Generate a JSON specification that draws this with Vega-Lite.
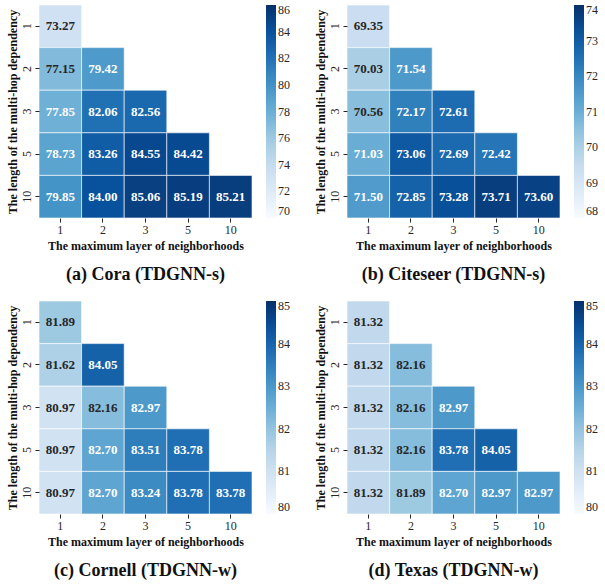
{
  "$schema": "https://vega.github.io/schema/vega-lite/v6.json",
  "padding": {"left": 6, "top": 4, "right": 0, "bottom": 0},
  "background": "white",
  "data": {"values": [
    {"dataset": "Cora", "length": "1", "layer": "1", "value": 73.27},
    {"dataset": "Cora", "length": "2", "layer": "1", "value": 77.15},
    {"dataset": "Cora", "length": "2", "layer": "2", "value": 79.42},
    {"dataset": "Cora", "length": "3", "layer": "1", "value": 77.85},
    {"dataset": "Cora", "length": "3", "layer": "2", "value": 82.06},
    {"dataset": "Cora", "length": "3", "layer": "3", "value": 82.56},
    {"dataset": "Cora", "length": "5", "layer": "1", "value": 78.73},
    {"dataset": "Cora", "length": "5", "layer": "2", "value": 83.26},
    {"dataset": "Cora", "length": "5", "layer": "3", "value": 84.55},
    {"dataset": "Cora", "length": "5", "layer": "5", "value": 84.42},
    {"dataset": "Cora", "length": "10", "layer": "1", "value": 79.85},
    {"dataset": "Cora", "length": "10", "layer": "2", "value": 84.00},
    {"dataset": "Cora", "length": "10", "layer": "3", "value": 85.06},
    {"dataset": "Cora", "length": "10", "layer": "5", "value": 85.19},
    {"dataset": "Cora", "length": "10", "layer": "10", "value": 85.21},

    {"dataset": "Citeseer", "length": "1", "layer": "1", "value": 69.35},
    {"dataset": "Citeseer", "length": "2", "layer": "1", "value": 70.03},
    {"dataset": "Citeseer", "length": "2", "layer": "2", "value": 71.54},
    {"dataset": "Citeseer", "length": "3", "layer": "1", "value": 70.56},
    {"dataset": "Citeseer", "length": "3", "layer": "2", "value": 72.17},
    {"dataset": "Citeseer", "length": "3", "layer": "3", "value": 72.61},
    {"dataset": "Citeseer", "length": "5", "layer": "1", "value": 71.03},
    {"dataset": "Citeseer", "length": "5", "layer": "2", "value": 73.06},
    {"dataset": "Citeseer", "length": "5", "layer": "3", "value": 72.69},
    {"dataset": "Citeseer", "length": "5", "layer": "5", "value": 72.42},
    {"dataset": "Citeseer", "length": "10", "layer": "1", "value": 71.50},
    {"dataset": "Citeseer", "length": "10", "layer": "2", "value": 72.85},
    {"dataset": "Citeseer", "length": "10", "layer": "3", "value": 73.28},
    {"dataset": "Citeseer", "length": "10", "layer": "5", "value": 73.71},
    {"dataset": "Citeseer", "length": "10", "layer": "10", "value": 73.60},

    {"dataset": "Cornell", "length": "1", "layer": "1", "value": 81.89},
    {"dataset": "Cornell", "length": "2", "layer": "1", "value": 81.62},
    {"dataset": "Cornell", "length": "2", "layer": "2", "value": 84.05},
    {"dataset": "Cornell", "length": "3", "layer": "1", "value": 80.97},
    {"dataset": "Cornell", "length": "3", "layer": "2", "value": 82.16},
    {"dataset": "Cornell", "length": "3", "layer": "3", "value": 82.97},
    {"dataset": "Cornell", "length": "5", "layer": "1", "value": 80.97},
    {"dataset": "Cornell", "length": "5", "layer": "2", "value": 82.70},
    {"dataset": "Cornell", "length": "5", "layer": "3", "value": 83.51},
    {"dataset": "Cornell", "length": "5", "layer": "5", "value": 83.78},
    {"dataset": "Cornell", "length": "10", "layer": "1", "value": 80.97},
    {"dataset": "Cornell", "length": "10", "layer": "2", "value": 82.70},
    {"dataset": "Cornell", "length": "10", "layer": "3", "value": 83.24},
    {"dataset": "Cornell", "length": "10", "layer": "5", "value": 83.78},
    {"dataset": "Cornell", "length": "10", "layer": "10", "value": 83.78},

    {"dataset": "Texas", "length": "1", "layer": "1", "value": 81.32},
    {"dataset": "Texas", "length": "2", "layer": "1", "value": 81.32},
    {"dataset": "Texas", "length": "2", "layer": "2", "value": 82.16},
    {"dataset": "Texas", "length": "3", "layer": "1", "value": 81.32},
    {"dataset": "Texas", "length": "3", "layer": "2", "value": 82.16},
    {"dataset": "Texas", "length": "3", "layer": "3", "value": 82.97},
    {"dataset": "Texas", "length": "5", "layer": "1", "value": 81.32},
    {"dataset": "Texas", "length": "5", "layer": "2", "value": 82.16},
    {"dataset": "Texas", "length": "5", "layer": "3", "value": 83.78},
    {"dataset": "Texas", "length": "5", "layer": "5", "value": 84.05},
    {"dataset": "Texas", "length": "10", "layer": "1", "value": 81.32},
    {"dataset": "Texas", "length": "10", "layer": "2", "value": 81.89},
    {"dataset": "Texas", "length": "10", "layer": "3", "value": 82.70},
    {"dataset": "Texas", "length": "10", "layer": "5", "value": 82.97},
    {"dataset": "Texas", "length": "10", "layer": "10", "value": 82.97}
  ]},
  "columns": 2,
  "spacing": {"column": 24, "row": 16},
  "resolve": {"scale": {"color": "independent"}, "legend": {"color": "independent"}},
  "concat": [
    {
      "transform": [{"filter": "datum.dataset === 'Cora'"}],
      "width": 213, "height": 213,
      "title": {"text": "(a) Cora (TDGNN-s)"},
      "encoding": {
        "x": {"field": "layer", "type": "ordinal", "sort": ["1","2","3","5","10"], "scale": {"domain": ["1","2","3","5","10"], "paddingInner": 0, "paddingOuter": 0}, "title": "The maximum layer of neighborhoods"},
        "y": {"field": "length", "type": "ordinal", "sort": ["1","2","3","5","10"], "scale": {"domain": ["1","2","3","5","10"], "paddingInner": 0, "paddingOuter": 0}, "title": "The length of the multi-hop dependency"}
      },
      "layer": [
        {"mark": {"type": "rect", "stroke": "white", "strokeWidth": 0.6},
         "encoding": {"color": {"field": "value", "type": "quantitative",
           "scale": {"domain": [70,72,74,76,78,80,82,84,86], "interpolate": "rgb", "range": ["#f7fbff","#deebf7","#c6dbef","#9ecae1","#6baed6","#4292c6","#2171b5","#08519c","#08306b"]},
           "legend": {"values": [70,72,74,76,78,80,82,84,86]}}}},
        {"mark": {"type": "text", "fontWeight": "bold", "fontSize": 13, "font": "Liberation Serif"},
         "encoding": {"text": {"field": "value", "type": "quantitative", "format": ".2f"},
           "color": {"condition": {"test": "datum.value < 77.5", "value": "#262626"}, "value": "white"}}}
      ]
    },
    {
      "transform": [{"filter": "datum.dataset === 'Citeseer'"}],
      "width": 213, "height": 213,
      "title": {"text": "(b) Citeseer (TDGNN-s)"},
      "encoding": {
        "x": {"field": "layer", "type": "ordinal", "sort": ["1","2","3","5","10"], "scale": {"domain": ["1","2","3","5","10"], "paddingInner": 0, "paddingOuter": 0}, "title": "The maximum layer of neighborhoods"},
        "y": {"field": "length", "type": "ordinal", "sort": ["1","2","3","5","10"], "scale": {"domain": ["1","2","3","5","10"], "paddingInner": 0, "paddingOuter": 0}, "title": "The length of the multi-hop dependency"}
      },
      "layer": [
        {"mark": {"type": "rect", "stroke": "white", "strokeWidth": 0.6},
         "encoding": {"color": {"field": "value", "type": "quantitative",
           "scale": {"domain": [68,68.75,69.5,70.25,71,71.75,72.5,73.25,74], "interpolate": "rgb", "range": ["#f7fbff","#deebf7","#c6dbef","#9ecae1","#6baed6","#4292c6","#2171b5","#08519c","#08306b"]},
           "legend": {"values": [68,69,70,71,72,73,74]}}}},
        {"mark": {"type": "text", "fontWeight": "bold", "fontSize": 13, "font": "Liberation Serif"},
         "encoding": {"text": {"field": "value", "type": "quantitative", "format": ".2f"},
           "color": {"condition": {"test": "datum.value < 70.8", "value": "#262626"}, "value": "white"}}}
      ]
    },
    {
      "transform": [{"filter": "datum.dataset === 'Cornell'"}],
      "width": 213, "height": 213,
      "title": {"text": "(c) Cornell (TDGNN-w)"},
      "encoding": {
        "x": {"field": "layer", "type": "ordinal", "sort": ["1","2","3","5","10"], "scale": {"domain": ["1","2","3","5","10"], "paddingInner": 0, "paddingOuter": 0}, "title": "The maximum layer of neighborhoods"},
        "y": {"field": "length", "type": "ordinal", "sort": ["1","2","3","5","10"], "scale": {"domain": ["1","2","3","5","10"], "paddingInner": 0, "paddingOuter": 0}, "title": "The length of the multi-hop dependency"}
      },
      "layer": [
        {"mark": {"type": "rect", "stroke": "white", "strokeWidth": 0.6},
         "encoding": {"color": {"field": "value", "type": "quantitative",
           "scale": {"domain": [80,80.625,81.25,81.875,82.5,83.125,83.75,84.375,85], "interpolate": "rgb", "range": ["#f7fbff","#deebf7","#c6dbef","#9ecae1","#6baed6","#4292c6","#2171b5","#08519c","#08306b"]},
           "legend": {"values": [80,81,82,83,84,85]}}}},
        {"mark": {"type": "text", "fontWeight": "bold", "fontSize": 13, "font": "Liberation Serif"},
         "encoding": {"text": {"field": "value", "type": "quantitative", "format": ".2f"},
           "color": {"condition": {"test": "datum.value < 82.4", "value": "#262626"}, "value": "white"}}}
      ]
    },
    {
      "transform": [{"filter": "datum.dataset === 'Texas'"}],
      "width": 213, "height": 213,
      "title": {"text": "(d) Texas (TDGNN-w)"},
      "encoding": {
        "x": {"field": "layer", "type": "ordinal", "sort": ["1","2","3","5","10"], "scale": {"domain": ["1","2","3","5","10"], "paddingInner": 0, "paddingOuter": 0}, "title": "The maximum layer of neighborhoods"},
        "y": {"field": "length", "type": "ordinal", "sort": ["1","2","3","5","10"], "scale": {"domain": ["1","2","3","5","10"], "paddingInner": 0, "paddingOuter": 0}, "title": "The length of the multi-hop dependency"}
      },
      "layer": [
        {"mark": {"type": "rect", "stroke": "white", "strokeWidth": 0.6},
         "encoding": {"color": {"field": "value", "type": "quantitative",
           "scale": {"domain": [80,80.625,81.25,81.875,82.5,83.125,83.75,84.375,85], "interpolate": "rgb", "range": ["#f7fbff","#deebf7","#c6dbef","#9ecae1","#6baed6","#4292c6","#2171b5","#08519c","#08306b"]},
           "legend": {"values": [80,81,82,83,84,85]}}}},
        {"mark": {"type": "text", "fontWeight": "bold", "fontSize": 13, "font": "Liberation Serif"},
         "encoding": {"text": {"field": "value", "type": "quantitative", "format": ".2f"},
           "color": {"condition": {"test": "datum.value < 82.4", "value": "#262626"}, "value": "white"}}}
      ]
    }
  ],
  "config": {
    "font": "Liberation Serif",
    "view": {"stroke": null},
    "axis": {
      "domain": false, "grid": false, "ticks": true, "tickSize": 4, "tickColor": "#262626", "tickWidth": 1,
      "labelFont": "Liberation Serif", "labelFontSize": 12, "labelColor": "#262626", "labelPadding": 2,
      "titleFont": "Liberation Serif", "titleFontSize": 12, "titleFontWeight": "bold", "titleColor": "#111111", "titlePadding": 5
    },
    "axisX": {"labelAngle": 0},
    "axisY": {"labelAngle": -90, "titlePadding": 1},
    "legend": {
      "orient": "right", "title": null, "gradientLength": 213, "gradientThickness": 10, "offset": 14,
      "gradientStrokeWidth": 0, "labelFont": "Liberation Serif", "labelFontSize": 12, "labelColor": "#262626",
      "labelOffset": 6, "labelBaseline": "middle", "labelOverlap": false
    },
    "title": {
      "orient": "bottom", "font": "Liberation Serif", "fontSize": 18, "fontWeight": "bold", "color": "#111111",
      "offset": 15, "anchor": "middle"
    }
  }
}
